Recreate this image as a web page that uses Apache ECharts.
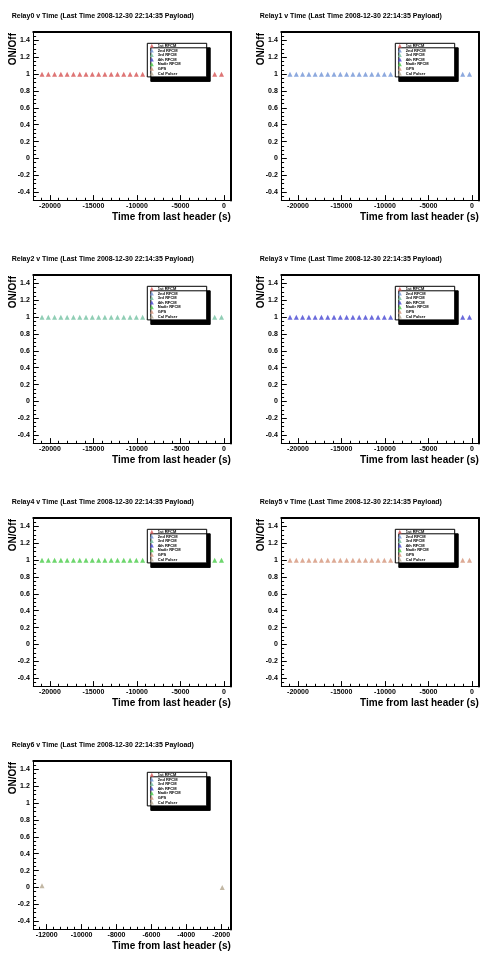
<!DOCTYPE html>
<html>
<head>
<meta charset="utf-8">
<script src="https://cdn.jsdelivr.net/npm/echarts@6/dist/echarts.min.js"></script>
<style>
html,body{margin:0;padding:0;background:#ffffff;}
#c{width:496px;height:972px;}
</style>
</head>
<body>
<div id="c"></div>
<script>
// ---------- data ----------
const relayNames = ['Relay0','Relay1','Relay2','Relay3','Relay4','Relay5','Relay6'];
const legendNames = ['1st RFCM','2nd RFCM','3rd RFCM','4th RFCM','Nadir RFCM','GPS','Cal Pulser'];
const legendColors = ['#d65252','#7194d6','#74c2a2','#4646d2','#48cc48','#d4957a','#b4a68e'];
const lastTime = '2008-12-30 22:14:35';

// times (s, from last header) shared by relays 0-5
const relayTimes = [-20920,-20197,-19474,-18751,-18028,-17305,-16582,-15859,-15136,-14413,
  -13690,-12967,-12244,-11521,-10798,-10075,-9352,-8629,-7906,-7183,
  -6460,-5737,-5014,-4291,-3568,-2845,-2122,-1069,-287];
const relay0OnOff = [1,1,1,1,1,1,1,1,1,1,1,1,1,1,1,1,1,1,1,1,1,1,1,1,1,1,1,1,1];
const relay1OnOff = [1,1,1,1,1,1,1,1,1,1,1,1,1,1,1,1,1,1,1,1,1,1,1,1,1,1,1,1,1];
const relay2OnOff = [1,1,1,1,1,1,1,1,1,1,1,1,1,1,1,1,1,1,1,1,1,1,1,1,1,1,1,1,1];
const relay3OnOff = [1,1,1,1,1,1,1,1,1,1,1,1,1,1,1,1,1,1,1,1,1,1,1,1,1,1,1,1,1];
const relay4OnOff = [1,1,1,1,1,1,1,1,1,1,1,1,1,1,1,1,1,1,1,1,1,1,1,1,1,1,1,1,1];
const relay5OnOff = [1,1,1,1,1,1,1,1,1,1,1,1,1,1,1,1,1,1,1,1,1,1,1,1,1,1,1,1,1];
const relay6Times = [-12270,-1940];
const relay6OnOff = [0.02,0];

// tick labels
const yTickLabels = [-0.4,-0.2,0,0.2,0.4,0.6,0.8,1,1.2,1.4];
const xTickLabels = [-20000,-15000,-10000,-5000,0];
const x6TickLabels = [-12000,-10000,-8000,-6000,-4000,-2000];

// axis ranges
const yRange = [-0.5, 1.5];
const xRange = [-21920, 782];
const x6Range = [-12768, -1450];

// ---------- helpers ----------
function minorList(a, b, step){ const out=[]; for(let v=a; v<=b+1e-9; v+=step){ out.push(Math.round(v*1000)/1000); } return out; }
const yMinor = minorList(-0.5, 1.5, 0.05);
const xMinor = minorList(-21000, 0, 1000);
const x6Minor = minorList(-12400, -1600, 400);

const relayTimesList = [relayTimes,relayTimes,relayTimes,relayTimes,relayTimes,relayTimes,relay6Times];
const relayValuesList = [relay0OnOff,relay1OnOff,relay2OnOff,relay3OnOff,relay4OnOff,relay5OnOff,relay6OnOff];

const FONT = '"Liberation Sans", Arial, Helvetica, sans-serif';
const chart = echarts.init(document.getElementById('c'), null, {renderer:'canvas'});

const grids=[], xAxes=[], yAxes=[], series=[], legends=[], graphics=[];
const BLACK = '#000000';

for (let p=0; p<7; p++){
  const ox = (p%2)*248, oy = Math.floor(p/2)*243;
  const last = (p===6);
  const gl = ox+33.3, gt = oy+32, gw = 197.5, gh = 168.6;
  grids.push({left:gl, top:gt, width:gw, height:gh, show:false, containLabel:false});
  const xr = last ? x6Range : xRange;
  const xMaj = last ? x6TickLabels : xTickLabels;
  const xMin = last ? x6Minor : xMinor;

  const xMain = xAxes.length;
  xAxes.push({type:'value', gridIndex:p, min:xr[0], max:xr[1], position:'bottom',
    axisLine:{show:true, onZero:false, lineStyle:{color:BLACK, width:1}},
    axisTick:{show:true, inside:true, length:5.5, customValues:xMaj, lineStyle:{color:BLACK, width:1}},
    axisLabel:{show:true, customValues:xMaj, margin:1.5, fontSize:7, fontWeight:'bold', color:BLACK, fontFamily:FONT,
      formatter:(v)=>String(v)},
    splitLine:{show:false}});
  xAxes.push({type:'value', gridIndex:p, min:xr[0], max:xr[1], position:'bottom',
    axisLine:{show:false, onZero:false},
    axisTick:{show:true, inside:true, length:2.8, customValues:xMin, lineStyle:{color:BLACK, width:1}},
    axisLabel:{show:false}, splitLine:{show:false}});
  xAxes.push({type:'value', gridIndex:p, min:xr[0], max:xr[1], position:'top',
    axisLine:{show:true, onZero:false, lineStyle:{color:BLACK, width:2}},
    axisTick:{show:false}, axisLabel:{show:false}, splitLine:{show:false}});

  const yMain = yAxes.length;
  yAxes.push({type:'value', gridIndex:p, min:yRange[0], max:yRange[1], position:'left',
    axisLine:{show:true, onZero:false, lineStyle:{color:BLACK, width:1}},
    axisTick:{show:true, inside:true, length:5.5, customValues:yTickLabels, lineStyle:{color:BLACK, width:1}},
    axisLabel:{show:true, customValues:yTickLabels, margin:3.5, fontSize:7, fontWeight:'bold', color:BLACK, fontFamily:FONT,
      formatter:(v)=>String(Math.round(v*10)/10)},
    splitLine:{show:false}});
  yAxes.push({type:'value', gridIndex:p, min:yRange[0], max:yRange[1], position:'left',
    axisLine:{show:false, onZero:false},
    axisTick:{show:true, inside:true, length:2.8, customValues:yMinor, lineStyle:{color:BLACK, width:1}},
    axisLabel:{show:false}, splitLine:{show:false}});
  yAxes.push({type:'value', gridIndex:p, min:yRange[0], max:yRange[1], position:'right',
    axisLine:{show:true, onZero:false, lineStyle:{color:BLACK, width:2}},
    axisTick:{show:false}, axisLabel:{show:false}, splitLine:{show:false}});

  for (let k=0; k<legendNames.length; k++){
    let data = [];
    if (k===p){
      const ts = relayTimesList[p], vs = relayValuesList[p];
      data = ts.map((t,i)=>[t, vs[i]]);
    }
    series.push({type:'scatter', name:legendNames[k], xAxisIndex:xMain, yAxisIndex:yMain,
      symbol:'triangle', symbolSize:[5,5], itemStyle:{color:legendColors[k]},
      emphasis:{disabled:true}, silent:true, z:2, data:data});
  }

  legends.push({show:true, data:legendNames.map(n=>({name:n, icon:'triangle'})), orient:'vertical',
    left:ox+147.3, top:oy+43.3, itemWidth:4, itemHeight:4, itemGap:0.6,
    padding:[0.5,26,1.5,2.5], backgroundColor:'#ffffff', borderColor:BLACK, borderWidth:1,
    shadowColor:BLACK, shadowBlur:0, shadowOffsetX:3.5, shadowOffsetY:4.5,
    selectedMode:false, z:6,
    textStyle:{fontSize:4, lineHeight:4, fontWeight:'bold', color:BLACK, fontFamily:FONT, padding:[0,0,0,-1]}});

  graphics.push({type:'text', x:ox+11.7, y:oy+16, z:10,
    style:{text:relayNames[p]+' v Time (Last Time '+lastTime+' Payload)', font:'bold 7px '+FONT, fill:BLACK, align:'left', verticalAlign:'middle'}});
  graphics.push({type:'text', x:ox+230.8, y:oy+217, z:10,
    style:{text:'Time from last header (s)', font:'bold 10px '+FONT, fill:BLACK, align:'right', verticalAlign:'middle'}});
  graphics.push({type:'text', x:ox+13.2, y:oy+33, rotation:Math.PI/2, z:10,
    style:{text:'ON/Off', font:'bold 10px '+FONT, fill:BLACK, align:'right', verticalAlign:'middle'}});
}

chart.setOption({
  animation:false,
  backgroundColor:'#ffffff',
  grid:grids, xAxis:xAxes, yAxis:yAxes, series:series, legend:legends,
  graphic:{elements:graphics}
});
</script>
</body>
</html>
